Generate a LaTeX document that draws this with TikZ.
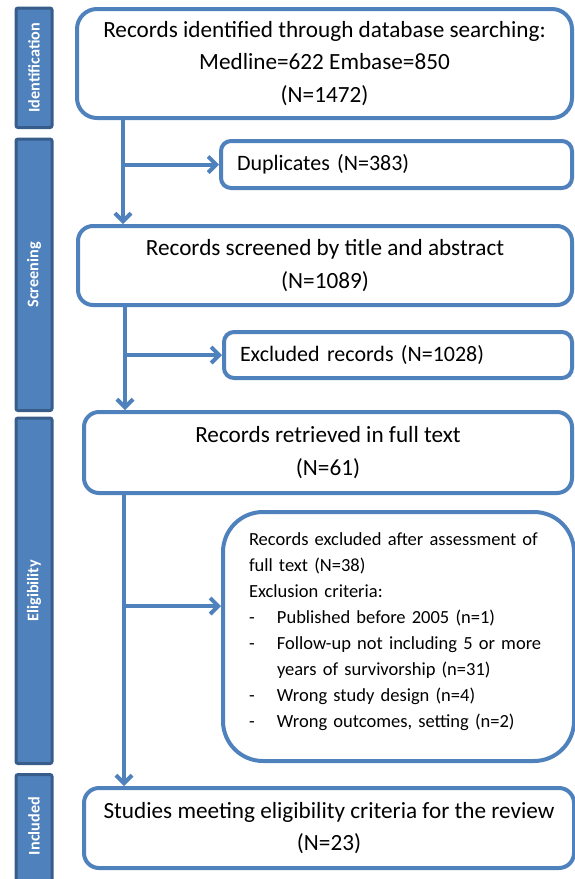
\documentclass[tikz,border=0pt]{standalone}
\usepackage{fontspec}
\setmainfont{Carlito}
\usetikzlibrary{arrows.meta,positioning,calc}
\definecolor{prismablue}{RGB}{79,129,189}
\definecolor{prismadark}{RGB}{56,93,138}

\begin{document}
\begin{tikzpicture}[x=1pt,y=-1pt,
    stagebar/.style={draw=prismadark,fill=prismablue,line width=3pt,rounded corners=2pt,anchor=north west,inner sep=0pt},
    stagelabel/.style={rotate=90,text=white,font=\fontsize{16.2}{18}\selectfont\bfseries},
    mainbox/.style={draw=prismablue,line width=4pt,fill=white,rounded corners=15pt,anchor=north west,align=center,inner sep=0pt,font=\fontsize{23.2}{32.5}\selectfont},
    sidebox/.style={draw=prismablue,line width=4pt,fill=white,rounded corners=10pt,anchor=north west,align=left,inner xsep=16pt,inner ysep=0pt,font=\fontsize{22}{24}\selectfont},
    flow/.style={draw=prismablue,line width=4pt,-{Straight Barb[length=8pt,width=16pt,line width=4pt]}}
  ]
    \useasboundingbox (0,0) rectangle (574,879);

    % Stage bars on the left
    \node[stagebar,minimum width=36pt,minimum height=119.5pt] (barid) at (14.5,6.5) {};
    \node[stagebar,minimum width=36pt,minimum height=271.5pt] (barsc) at (14.5,137.5) {};
    \node[stagebar,minimum width=36pt,minimum height=345.5pt] (barel) at (14.5,416.5) {};
    \node[stagebar,minimum width=36pt,minimum height=120pt] (barin) at (14.5,773) {};
    \node[stagelabel] at (barid.center) {Identification};
    \node[stagelabel] at (barsc.center) {Screening};
    \node[stagelabel] at (barel.center) {Eligibility};
    \node[stagelabel] at ($(barin.north)+(0,53)$) {Included};

    % Main boxes
    \node[mainbox,rounded corners=20pt,minimum width=495pt,minimum height=109pt] (ident) at (75,7)
      {Records identified through database searching:\\Medline=622 Embase=850\\(N=1472)};
    \node[mainbox,minimum width=494pt,minimum height=79pt] (screen) at (76,224)
      {Records screened by title and abstract\\(N=1089)};
    \node[mainbox,minimum width=488pt,minimum height=81pt] (retr) at (82,410)
      {Records retrieved in full text\\(N=61)};
    \node[mainbox,minimum width=490pt,minimum height=80pt] (incl) at (82,786)
      {Studies meeting eligibility criteria for the review\\(N=23)};

    % Side boxes
    \node[sidebox,minimum width=351pt,minimum height=47pt,text width=319pt] (dup) at (219,139) {Duplicates (N=383)};
    \node[sidebox,minimum width=348pt,minimum height=46pt,text width=316pt] (excl) at (222,330) {Excluded records (N=1028)};
    \node[sidebox,rounded corners=40pt,inner xsep=26pt,minimum width=351pt,minimum height=249pt,text width=299pt,
      font=\fontsize{18.5}{26}\selectfont] (fullx) at (221,510)
      {Records excluded after assessment of\\
       full text (N=38)\\
       Exclusion criteria:\\
       \makebox[28pt][l]{-}Published before 2005 (n=1)\\
       \makebox[28pt][l]{-}Follow-up not including 5 or more\\
       \hspace*{28pt}years of survivorship (n=31)\\
       \makebox[28pt][l]{-}Wrong study design (n=4)\\
       \makebox[28pt][l]{-}Wrong outcomes, setting (n=2)\\[-14pt]\mbox{}};

    % Trunks and branches
    \coordinate (trunka) at (123,0);
    \coordinate (trunkb) at (125,0);
    \coordinate (trunkc) at (124,0);
    \coordinate (fxin) at (221,606);
    \draw[flow] (ident.south -| trunka) -- (screen.north -| trunka);
    \draw[flow] (dup.west -| trunka) -- (dup.west);
    \draw[flow] (screen.south -| trunkb) -- (retr.north -| trunkb);
    \draw[flow] (excl.west -| trunkb) -- (excl.west);
    \draw[flow] (retr.south -| trunkc) -- (incl.north -| trunkc);
    \draw[flow] (fxin -| trunkc) -- (fxin);
\end{tikzpicture}
\end{document}
